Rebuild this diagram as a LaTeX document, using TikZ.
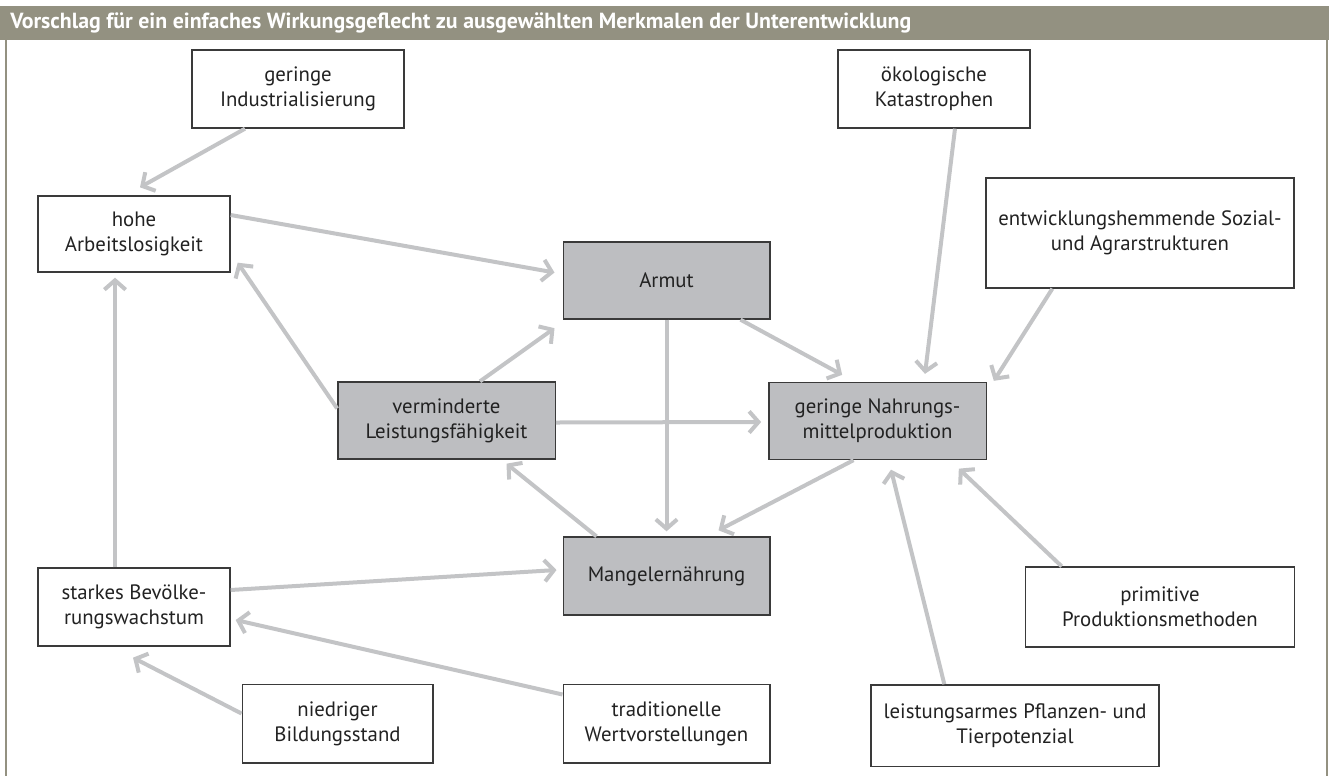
\documentclass[tikz,border=0pt]{standalone}
\usepackage{fontspec}
\setmainfont{PT Sans}
\usetikzlibrary{arrows.meta,calc}
\definecolor{hdr}{HTML}{939181}
\definecolor{arrc}{HTML}{C3C4C6}
\definecolor{boxfill}{HTML}{BDBEC1}
\definecolor{boxline}{HTML}{3A3A3A}
\definecolor{txt}{HTML}{222222}
\tikzset{
  wbox/.style={draw=boxline, line width=1pt, fill=white, align=center, inner sep=0pt,
    text=txt, font=\fontsize{15.6}{19}\selectfont},
  gbox/.style={wbox, fill=boxfill},
  arr/.style={draw=arrc, line width=3pt, -{Straight Barb[length=7pt,width=16pt]}},
}
\begin{document}
\begin{tikzpicture}[x=0.75pt,y=-0.75pt]
\useasboundingbox (0,0) rectangle (1332,776);
% header and frame
\fill[hdr] (0,6) rectangle (1329,40);
\node[anchor=west, text=white, inner sep=0pt, font=\fontsize{16.4}{19}\selectfont\bfseries] (title) at (10,23)
  {Vorschlag für ein einfaches Wirkungsgeflecht zu ausgewählten Merkmalen der Unterentwicklung};
\draw[hdr, line width=1.5pt] (6,40) -- (6,776);
\draw[hdr, line width=1.5pt] (1327,40) -- (1327,776);
% nodes
\node[wbox, minimum width=159pt, minimum height=58.5pt] (ind) at (298,89) {geringe\\Industrialisierung};
\node[wbox, minimum width=144pt, minimum height=57pt] (arb) at (134,234) {hohe\\Arbeitslosigkeit};
\node[wbox, minimum width=144pt, minimum height=58.5pt] (oek) at (934,89) {ökologische\\Katastrophen};
\node[wbox, minimum width=231pt, minimum height=82.5pt] (ent) at (1140,233) {entwicklungshemmende Sozial-\\und Agrarstrukturen};
\node[gbox, minimum width=155pt, minimum height=57.75pt] (armut) at (666.5,280.5) {Armut};
\node[gbox, minimum width=163pt, minimum height=57.75pt] (verm) at (446.5,420.5) {verminderte\\Leistungsfähigkeit};
\node[gbox, minimum width=163pt, minimum height=57.75pt] (nahr) at (877.5,421) {geringe Nahrungs-\\mittelproduktion};
\node[gbox, minimum width=155pt, minimum height=58.5pt] (mangel) at (666.5,576) {Mangelernährung};
\node[wbox, minimum width=144pt, minimum height=58.5pt] (stark) at (134,607) {starkes Bevölke-\\rungswachstum};
\node[wbox, minimum width=202pt, minimum height=60pt] (prim) at (1160,607) {primitive\\Produktionsmethoden};
\node[wbox, minimum width=143pt, minimum height=59pt] (nied) at (337.5,723.5) {niedriger\\Bildungsstand};
\node[wbox, minimum width=155pt, minimum height=59pt] (trad) at (666.5,723.5) {traditionelle\\Wertvorstellungen};
\node[wbox, minimum width=216pt, minimum height=61pt] (leist) at (1015,725.5) {leistungsarmes Pflanzen- und\\Tierpotenzial};
% connectors
\draw[arr] ($(ind.south)+(-53,0)$) -- ($(arb.north)+(6,-8)$);
\draw[arr] ($(arb.east)+(0,-19)$) -- ($(armut.west)+(-8,-8)$);
\draw[arr] ($(verm.west)+(0,-12)$) -- ($(arb.south east)+(7,-10)$);
\draw[arr] ($(stark.north)+(-19,0)$) -- ($(arb.south)+(-19,5)$);
\draw[arr] ($(verm.north)+(33.5,0)$) -- ($(armut.south west)+(-8,8.5)$);
\draw[arr] ($(verm.east)+(0,2)$) -- ($(nahr.west)+(-7,1)$);
\draw[arr] (armut.south) -- ($(mangel.north)+(0,-5)$);
\draw[arr] ($(armut.south east)+(-30,0)$) -- ($(nahr.north west)+(74,-7)$);
\draw[arr] ($(mangel.north west)+(34,0)$) -- ($(verm.south)+(60,4)$);
\draw[arr] ($(nahr.south)+(-24,0)$) -- ($(mangel.north)+(52,-6)$);
\draw[arr] ($(stark.east)+(0,-17)$) -- ($(mangel.west)+(-6,-6)$);
\draw[arr] ($(trad.north west)+(0,11)$) -- ($(stark.east)+(5,13)$);
\draw[arr] ($(nied.west)+(0,-10)$) -- ($(stark.south)+(-1,11)$);
\draw[arr] ($(oek.south)+(21,0)$) -- ($(nahr.north)+(47.5,-8)$);
\draw[arr] ($(ent.south west)+(67,0)$) -- ($(nahr.north east)+(7,-1)$);
\draw[arr] ($(leist.north west)+(74,0)$) -- ($(nahr.south)+(13.5,9.5)$);
\draw[arr] ($(prim.north west)+(37,0)$) -- ($(nahr.south east)+(-28,8.5)$);
\end{tikzpicture}
\end{document}
